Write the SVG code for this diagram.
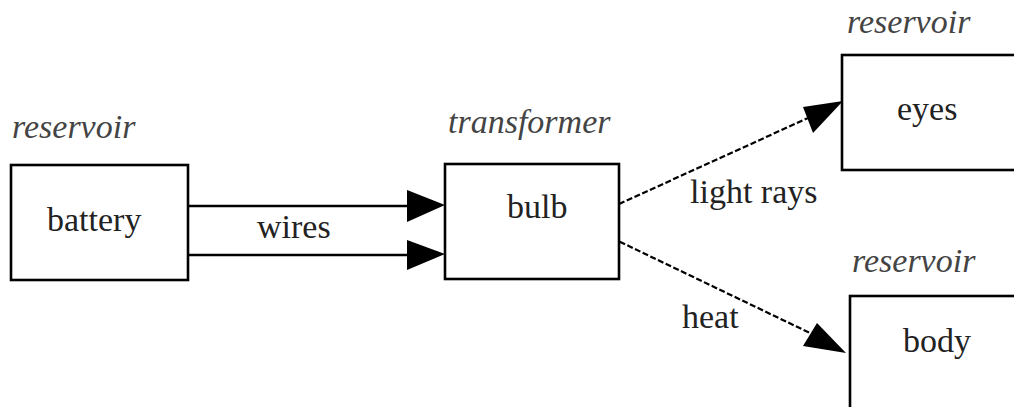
<svg xmlns="http://www.w3.org/2000/svg" width="1014" height="407" viewBox="0 0 1014 407">
  <style>
    .box { fill: #fff; stroke: #000; stroke-width: 2.6; }
    .name { font-family: "Liberation Serif", "Times New Roman", serif; font-size: 34px; fill: #222; }
    .role { font-family: "Liberation Serif", "Times New Roman", serif; font-size: 34px; font-style: italic; fill: #444; }
    .solid { stroke: #000; stroke-width: 2.6; fill: none; }
    .dashed { stroke: #000; stroke-width: 2.2; fill: none; stroke-dasharray: 6 2.5; }
    .head { fill: #000; stroke: none; }
  </style>
  <rect width="1014" height="407" fill="#fff"/>

  <!-- connectors -->
  <g id="connectors">
    <!-- wires: battery to bulb -->
    <line class="solid" x1="188" y1="206" x2="410" y2="206"/>
    <polygon class="head" points="407,190 445,205 407,222"/>
    <line class="solid" x1="188" y1="255" x2="410" y2="255"/>
    <polygon class="head" points="407,240 445,254 407,270"/>
    <text class="name" x="257" y="238">wires</text>

    <!-- light rays: bulb to eyes -->
    <line class="dashed" x1="619" y1="204" x2="808" y2="118"/>
    <polygon class="head" points="803,107 843,101 813,133"/>
    <text class="name" x="690" y="203">light rays</text>

    <!-- heat: bulb to body -->
    <line class="dashed" x1="612" y1="238" x2="810" y2="333"/>
    <polygon class="head" points="817,323 846,353 803,346"/>
    <text class="name" x="682" y="328">heat</text>
  </g>

  <g id="battery">
    <text class="role" x="12" y="138">reservoir</text>
    <rect class="box" x="11" y="165" width="177" height="115"/>
    <text class="name" x="47" y="231">battery</text>
  </g>

  <g id="bulb">
    <text class="role" x="448" y="133">transformer</text>
    <rect class="box" x="445" y="164" width="174" height="115"/>
    <text class="name" x="507" y="218">bulb</text>
  </g>

  <g id="eyes">
    <text class="role" x="847" y="33">reservoir</text>
    <rect class="box" x="842" y="55" width="200" height="115"/>
    <text class="name" x="897" y="120">eyes</text>
  </g>

  <g id="body">
    <text class="role" x="852" y="272">reservoir</text>
    <rect class="box" x="850" y="296" width="200" height="140"/>
    <text class="name" x="903" y="352">body</text>
  </g>
</svg>
